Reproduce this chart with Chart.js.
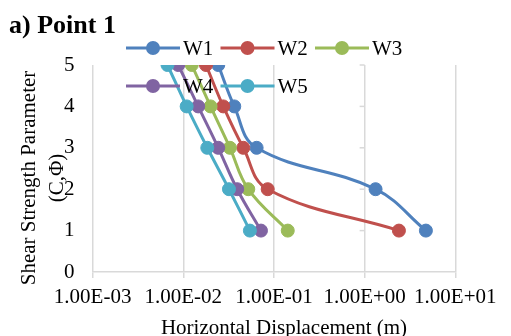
<!DOCTYPE html>
<html>
<head>
<meta charset="utf-8">
<script src="https://cdn.jsdelivr.net/npm/chart.js@4.4.1/dist/chart.umd.min.js"></script>
<style>
  html, body { margin: 0; padding: 0; background: #fff; }
  #wrap { width: 511px; height: 336px; }
</style>
</head>
<body>
<div id="wrap"><canvas id="chart" width="511" height="336"></canvas></div>
<script>
// shear strength levels (y) and horizontal displacement per wall (x, metres)
const levels = [5, 4, 3, 2, 1];
const seriesNames = ['W1', 'W2', 'W3', 'W4', 'W5'];
const w1 = [0.0243, 0.0365, 0.0644, 1.32, 4.74];
const w2 = [0.0178, 0.0276, 0.0459, 0.0853, 2.39];
const w3 = [0.0124, 0.0200, 0.0327, 0.0521, 0.142];
const w4 = [0.0088, 0.0146, 0.0243, 0.0393, 0.0719];
const w5 = [0.0067, 0.0109, 0.0184, 0.0319, 0.0543];
const colors = ['#4F81BD', '#C0504D', '#9BBB59', '#8064A2', '#4BACC6'];
const xTicks = [1e-3, 1e-2, 1e-1, 1e0, 1e1];
const yTicks = [0, 1, 2, 3, 4, 5];

const FONT = '"Liberation Serif", "Times New Roman", serif';
const gridColor = '#D9D9D9';

function sci(v) {
  const [m, e] = v.toExponential(2).split('e');
  const n = parseInt(e, 10);
  return m + 'E' + (n < 0 ? '-' : '+') + String(Math.abs(n)).padStart(2, '0');
}

const allSeries = [w1, w2, w3, w4, w5];
const datasets = allSeries.map((vals, i) => ({
  label: seriesNames[i],
  data: vals.map((x, k) => ({ x: x, y: levels[k] })),
  borderColor: colors[i],
  backgroundColor: colors[i],
  borderWidth: 3,
  pointRadius: 6.5,
  pointHoverRadius: 6.5,
  pointBorderWidth: 1,
  tension: 0.4,
  order: allSeries.length - i
}));

const extras = {
  id: 'extras',
  beforeDatasetsDraw(chart) {
    // the value axis crosses at 1.00E+00, so its ticks sit on that gridline
    const { ctx, scales: { x, y } } = chart;
    const px = x.getPixelForValue(1);
    ctx.save();
    ctx.strokeStyle = gridColor;
    ctx.lineWidth = 1.5;
    yTicks.slice(1).forEach(v => {
      const py = y.getPixelForValue(v);
      ctx.beginPath();
      ctx.moveTo(px - 5, py);
      ctx.lineTo(px, py);
      ctx.stroke();
    });
    ctx.restore();
  },
  afterDraw(chart) {
    const ctx = chart.ctx;
    ctx.save();
    ctx.fillStyle = '#000';
    ctx.textBaseline = 'alphabetic';
    ctx.font = 'bold 26px ' + FONT;
    ctx.fillText('a) Point 1', 9, 33);

    // axis titles, placed by hand (both sit off the plot centre)
    ctx.font = '21px ' + FONT;
    ctx.textAlign = 'center';
    ctx.fillText('Horizontal Displacement (m)', 284, 334);

    ctx.save();
    ctx.translate(29.7, 178);
    ctx.rotate(-Math.PI / 2);
    ctx.textBaseline = 'middle';
    ctx.fillText('Shear Strength Parameter', 0, 0);
    ctx.fillText('(C,\u03A6)', 0, 27.3);
    ctx.restore();
    ctx.textAlign = 'left';

    // legend, three entries per row
    ctx.textBaseline = 'middle';
    seriesNames.forEach((name, i) => {
      const x0 = 126 + (i % 3) * 94.5;
      const y0 = 48 + Math.floor(i / 3) * 38;
      ctx.strokeStyle = colors[i];
      ctx.lineWidth = 3;
      ctx.beginPath();
      ctx.moveTo(x0, y0);
      ctx.lineTo(x0 + 54, y0);
      ctx.stroke();
      ctx.fillStyle = colors[i];
      ctx.beginPath();
      ctx.arc(x0 + 27, y0, 7, 0, Math.PI * 2);
      ctx.fill();
      ctx.fillStyle = '#000';
      ctx.fillText(name, x0 + 57, y0 + 1);
    });
    ctx.restore();
  }
};

new Chart(document.getElementById('chart'), {
  type: 'line',
  data: { datasets: datasets },
  options: {
    responsive: false,
    animation: false,
    events: [],
    layout: { padding: { top: 65, right: 55.7, left: 0, bottom: 0 } },
    plugins: { legend: { display: false }, tooltip: { enabled: false } },
    scales: {
      x: {
        type: 'logarithmic',
        min: 1e-3,
        max: 10,
        afterBuildTicks: s => { s.ticks = xTicks.map(v => ({ value: v })); },
        afterFit: s => { s.height = 64; },
        ticks: {
          autoSkip: false,
          maxRotation: 0,
          padding: 7,
          color: '#000',
          font: { family: FONT, size: 21 },
          callback: v => sci(v)
        },
        grid: { color: gridColor, lineWidth: 1.5, tickLength: 6 },
        border: { color: gridColor, width: 1.5 }
      },
      y: {
        min: 0,
        max: 5,
        afterBuildTicks: s => { s.ticks = yTicks.map(v => ({ value: v })); },
        afterFit: s => { s.width = 92.6; },
        ticks: {
          padding: 18,
          color: '#000',
          font: { family: FONT, size: 21 }
        },
        grid: { display: false, drawTicks: false },
        border: { display: false }
      }
    }
  },
  plugins: [extras]
});
</script>
</body>
</html>
